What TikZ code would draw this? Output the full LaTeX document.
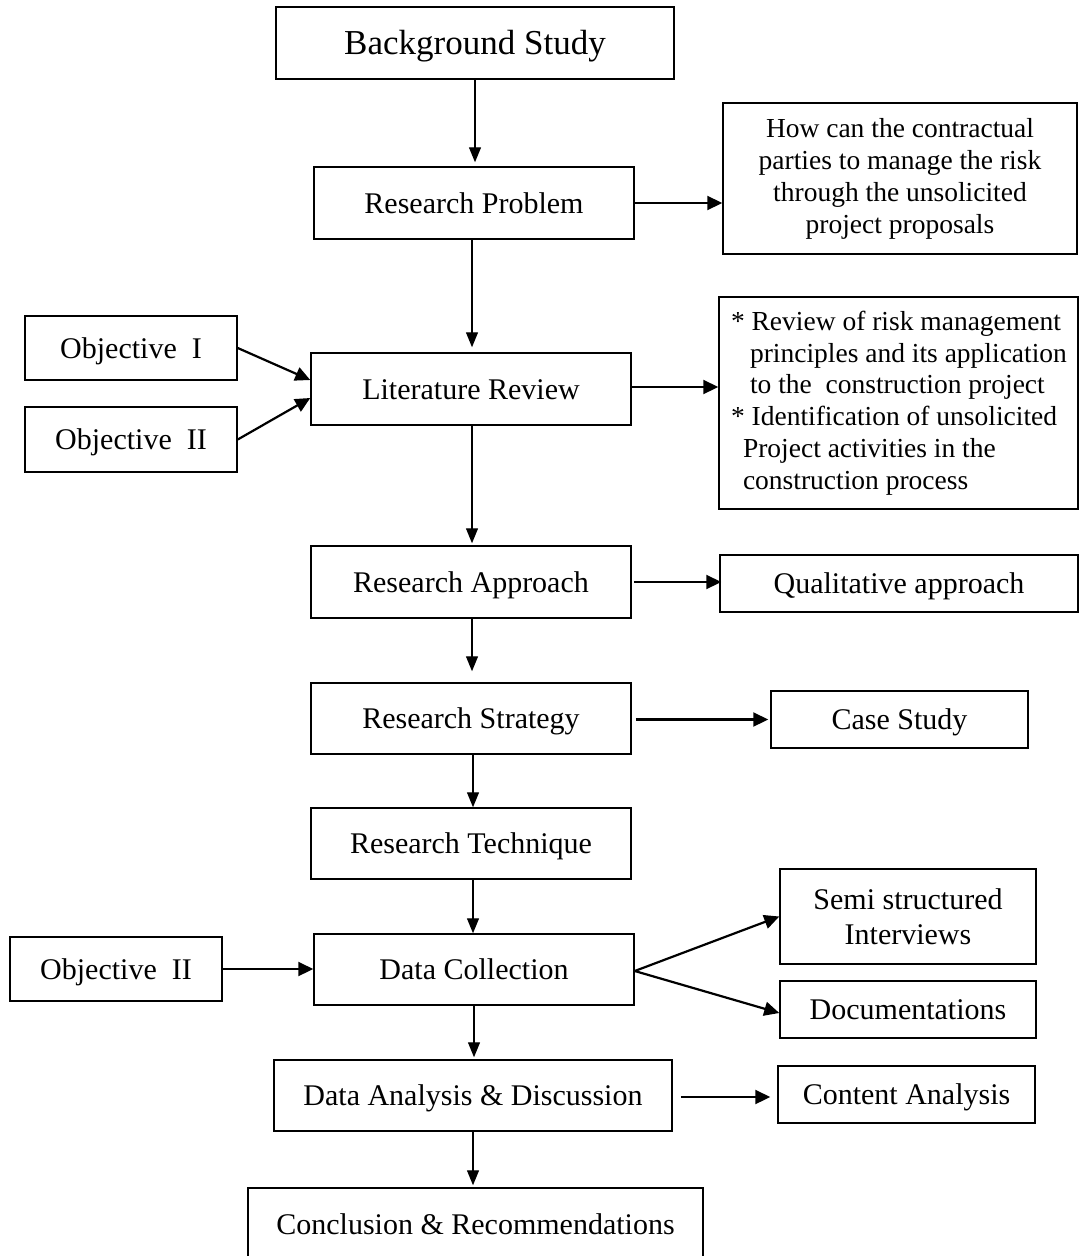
\documentclass[tikz,border=0pt]{standalone}
\usepackage{fontspec}
\setmainfont{Liberation Serif}
\usetikzlibrary{arrows.meta}
\begin{document}
\begin{tikzpicture}[x=1pt,y=-1pt,
  box/.style={draw, line width=1.5pt, inner sep=0pt, font=\fontsize{30}{35}\selectfont},
  onebox/.style={box, text height=20pt, text depth=0pt},
  vconn/.style={line width=1.3pt, -{Triangle[length=15pt,width=12pt]}, shorten >=2pt},
  hconn/.style={line width=2.2pt, -{Triangle[length=15pt,width=14pt]}}]
\useasboundingbox (0,0) rectangle (1079,1256);

% main column
\node[onebox, minimum width=398, minimum height=72, font=\fontsize{35}{40}\selectfont, text height=23pt] (bs) at (475,43) {Background Study};
\node[onebox, minimum width=320, minimum height=72] (rp) at (474,203) {Research Problem};
\node[onebox, minimum width=320, minimum height=72] (lr) at (471,389) {Literature Review};
\node[onebox, minimum width=320, minimum height=72] (ra) at (471,582) {Research Approach};
\node[onebox, minimum width=320, minimum height=71] (rs) at (471,718.5) {Research Strategy};
\node[onebox, minimum width=320, minimum height=71] (rt) at (471,843.5) {Research Technique};
\node[onebox, minimum width=320, minimum height=71] (dc) at (474,969.5) {Data Collection};
\node[onebox, minimum width=398, minimum height=71] (da) at (473,1095.5) {Data Analysis \& Discussion};
\node[onebox, minimum width=455, minimum height=72] (cr) at (475.5,1224) {Conclusion \& Recommendations};

% objectives on the left
\node[onebox, minimum width=212, minimum height=64] (o1) at (131,348) {Objective~ I};
\node[onebox, minimum width=212, minimum height=65] (o2) at (131,439.5) {Objective~ II};
\node[onebox, minimum width=212, minimum height=64] (o3) at (116,969) {Objective~ II};

% outcomes on the right
\node[box, minimum width=354, minimum height=151, align=center, font=\fontsize{27.5}{32}\selectfont] (hw) at (900,178.5)
  {How can the contractual\\parties to manage the risk\\through the unsolicited\\project proposals};
\node[box, text width=359pt, inner xsep=0pt, minimum height=212, align=flush left, font=\fontsize{27.5}{31.7}\selectfont] (rv) at (898.5,403)
  {\hspace*{12pt}{*} Review of risk management\\
   \hspace*{31pt}principles and its application\\
   \hspace*{31pt}to the~ construction project\\
   \hspace*{12pt}{*} Identification of unsolicited\\
   \hspace*{24pt}Project activities in the\\
   \hspace*{24pt}construction process};
\node[onebox, minimum width=358, minimum height=57] (qa) at (899,583.5) {Qualitative approach};
\node[onebox, minimum width=257, minimum height=57] (cs) at (899.5,719.5) {Case Study};
\node[box, minimum width=256, minimum height=95, align=center] (ss) at (908,916.5) {Semi structured\\Interviews};
\node[onebox, minimum width=256, minimum height=57] (dd) at (908,1009.5) {Documentations};
\node[onebox, minimum width=257, minimum height=57] (ca) at (906.5,1094.5) {Content Analysis};

% vertical flow
\draw[vconn, shorten >=4pt] (bs.south) -- (bs.south |- rp.north);
\draw[vconn, shorten >=5pt] ([xshift=-2pt]rp.south) -- ([xshift=-2pt]rp.south |- lr.north);
\draw[vconn] ([xshift=1pt]lr.south) -- ([xshift=1pt]lr.south |- ra.north);
\draw[vconn, shorten >=11pt] ([xshift=1pt]ra.south) -- ([xshift=1pt]ra.south |- rs.north);
\draw[vconn, shorten >=0pt] ([xshift=2pt]rs.south) -- ([xshift=2pt]rs.south |- rt.north);
\draw[vconn, shorten >=0pt] ([xshift=2pt]rt.south) -- ([xshift=2pt]rt.south |- dc.north);
\draw[vconn] (dc.south) -- (dc.south |- da.north);
\draw[vconn] (da.south) -- (da.south |- cr.north);

% side links
\draw[hconn] (rp.east) -- (rp.east -| hw.west);
\draw[hconn] ([yshift=2pt]lr.east) -- ([yshift=2pt]lr.east -| rv.west);
\draw[hconn] ([xshift=2pt]ra.east) -- ([xshift=2pt]ra.east -| qa.west);
\draw[hconn, shorten >=2pt] ([xshift=4pt,yshift=-1pt]rs.east) -- ([yshift=-1pt]rs.east -| cs.west);
\draw[hconn, shorten >=7pt] ([xshift=8pt,yshift=-1.5pt]da.east) -- ([yshift=-1.5pt]da.east -| ca.west);
\draw[hconn] (o3.east) -- (o3.east -| dc.west);
\draw[hconn] (o1.east) -- ([yshift=9pt]lr.west);
\draw[hconn] (o2.east) -- ([yshift=-9pt]lr.west);
\draw[hconn] ([yshift=-1.5pt]dc.east) -- (ss.west);
\draw[hconn] ([yshift=-1.5pt]dc.east) -- ([yshift=-3.5pt]dd.west);
\end{tikzpicture}
\end{document}
